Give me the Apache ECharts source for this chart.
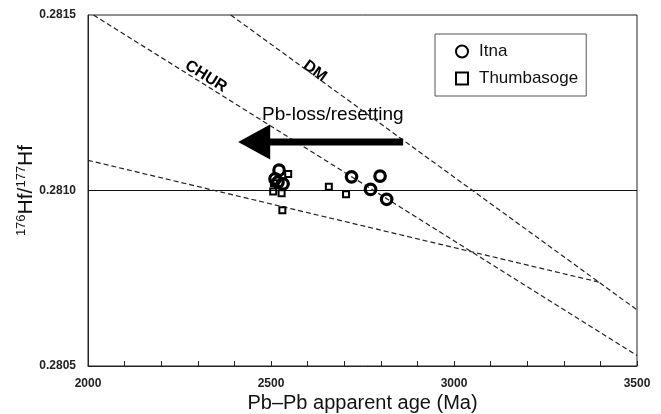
<!DOCTYPE html>
<html>
<head>
<meta charset="utf-8">
<script src="https://cdn.jsdelivr.net/npm/echarts@6/dist/echarts.min.js"></script>
<style>
  html, body { margin: 0; background: #fff; }
  #chart { width: 661px; height: 414px; }
</style>
</head>
<body>
<div id="chart"></div>
<script>
// tick labels
const xTickLabels = [2000, 2500, 3000, 3500]
const yTickLabels = [0.2805, 0.2810, 0.2815]

// Itna zircons (circles)
const itnaAge = [2522, 2511, 2533, 2519, 2720, 2798, 2772, 2816]
const itnaHf = [0.281058, 0.281033, 0.281019, 0.281024, 0.281039, 0.281041, 0.281003, 0.280975]

// Thumbasoge zircons (squares)
const thumbAge = [2547, 2506, 2529, 2658, 2705, 2531, 2508]
const thumbHf = [0.281047, 0.280997, 0.280992, 0.281011, 0.280989, 0.280944, 0.281021]

// reference / evolution lines
const refAge = [2000, 3500]
const refHf = [0.2810, 0.2810]
const churAge = [2015, 3500]
const churHf = [0.2815, 0.28053]
const dmAge = [2390, 3500]
const dmHf = [0.2815, 0.28066]
const lossAge = [2000, 3400]
const lossHf = [0.281086, 0.280738]

// annotations
const noteText = ['CHUR', 'DM', 'Pb-loss/resetting']
const noteAge = [2322, 2620, 2669]
const noteHf = [0.281325, 0.28134, 0.281215]
const noteRotate = [-32, -36, 0]
const arrowAge = [2861, 2454]
const arrowHf = [0.281138, 0.281138]

const pairs = (xs, ys) => xs.map((x, i) => [x, ys[i]])

const chart = echarts.init(document.getElementById('chart'))

const dashed = {
  color: '#222',
  width: 1.2,
  type: [5, 3]
}

const option = {
  animation: false,
  textStyle: { fontFamily: 'Liberation Sans, Arial, sans-serif' },
  grid: {
    left: 88,
    right: 24,
    top: 15,
    bottom: 48,
    outerBoundsMode: 'none',
    containLabel: false,
    show: true,
    borderColor: '#222',
    borderWidth: 1
  },
  legend: {
    data: ['Itna', 'Thumbasoge'],
    orient: 'vertical',
    left: 435,
    top: 34,
    padding: [9, 8, 9, 20],
    itemGap: 10,
    itemWidth: 12,
    itemHeight: 12,
    borderColor: '#555',
    borderWidth: 1,
    textStyle: {
      fontSize: 17,
      color: '#111',
      padding: [0, 0, 0, 6]
    }
  },
  xAxis: {
    type: 'value',
    min: 2000,
    max: 3500,
    interval: 100,
    name: 'Pb–Pb apparent age (Ma)',
    nameLocation: 'middle',
    nameGap: 27,
    nameMoveOverlap: false,
    nameTextStyle: { fontSize: 20, color: '#111' },
    splitLine: { show: false },
    axisLine: { lineStyle: { color: '#222' } },
    axisTick: { inside: true, length: 5, lineStyle: { color: '#222' } },
    axisLabel: {
      margin: 12,
      fontSize: 12,
      fontWeight: 'bold',
      color: '#222',
      formatter: v => (xTickLabels.includes(v) ? String(v) : '')
    }
  },
  yAxis: {
    type: 'value',
    min: 0.2805,
    max: 0.2815,
    interval: 0.0005,
    name: '{sup|176}{b|Hf/}{sup|177}{b|Hf}',
    nameLocation: 'middle',
    nameRotate: 90,
    nameGap: 51,
    nameMoveOverlap: false,
    nameTextStyle: {
      color: '#111',
      rich: {
        b: { fontSize: 21, color: '#111' },
        sup: { fontSize: 13, color: '#111', padding: [0, 0, 9, 0] }
      }
    },
    splitLine: { show: false },
    axisLine: { lineStyle: { color: '#222' } },
    axisTick: { show: false },
    axisLabel: {
      margin: 12,
      fontSize: 12,
      fontWeight: 'bold',
      color: '#222',
      formatter: v => {
        const hit = yTickLabels.find(t => Math.abs(t - v) < 1e-9)
        return hit !== undefined ? hit.toFixed(4) : ''
      }
    }
  },
  series: [
    {
      type: 'line',
      data: pairs(refAge, refHf),
      symbol: 'none',
      silent: true,
      lineStyle: { color: '#111', width: 1.2 }
    },
    {
      type: 'line',
      data: pairs(churAge, churHf),
      symbol: 'none',
      silent: true,
      lineStyle: dashed
    },
    {
      type: 'line',
      data: pairs(dmAge, dmHf),
      symbol: 'none',
      silent: true,
      lineStyle: dashed
    },
    {
      type: 'line',
      data: pairs(lossAge, lossHf),
      symbol: 'none',
      silent: true,
      lineStyle: dashed
    },
    {
      // Pb-loss arrow: thick shaft + triangle head
      type: 'line',
      data: pairs(arrowAge, arrowHf),
      symbol: 'none',
      silent: true,
      lineStyle: { color: '#000', width: 7, cap: 'butt' },
      markPoint: {
        silent: true,
        symbol: 'triangle',
        symbolRotate: 90,
        symbolSize: [35, 32],
        itemStyle: { color: '#000' },
        label: { show: false },
        data: [{ coord: [arrowAge[1], arrowHf[1]] }]
      }
    },
    {
      // text notes
      type: 'scatter',
      silent: true,
      symbolSize: 0,
      itemStyle: { opacity: 1 },
      data: noteText.map((t, i) => ({
        value: [noteAge[i], noteHf[i]],
        name: t,
        label: {
          rotate: noteRotate[i],
          fontWeight: i < 2 ? 'bold' : 'normal',
          fontSize: i < 2 ? 16 : 19
        }
      })),
      label: {
        show: true,
        position: 'inside',
        color: '#000',
        textBorderWidth: 0,
        formatter: p => p.name
      }
    },
    {
      name: 'Itna',
      type: 'scatter',
      data: pairs(itnaAge, itnaHf),
      symbol: 'circle',
      symbolSize: 10.5,
      z: 5,
      itemStyle: {
        opacity: 1,
        color: 'rgba(0,0,0,0)',
        borderColor: '#000',
        borderWidth: 3.2
      }
    },
    {
      name: 'Thumbasoge',
      type: 'scatter',
      data: pairs(thumbAge, thumbHf),
      symbol: 'rect',
      symbolSize: 6,
      z: 5,
      itemStyle: {
        opacity: 1,
        color: 'rgba(0,0,0,0)',
        borderColor: '#000',
        borderWidth: 2
      }
    }
  ]
}

chart.setOption(option)
</script>
</body>
</html>
